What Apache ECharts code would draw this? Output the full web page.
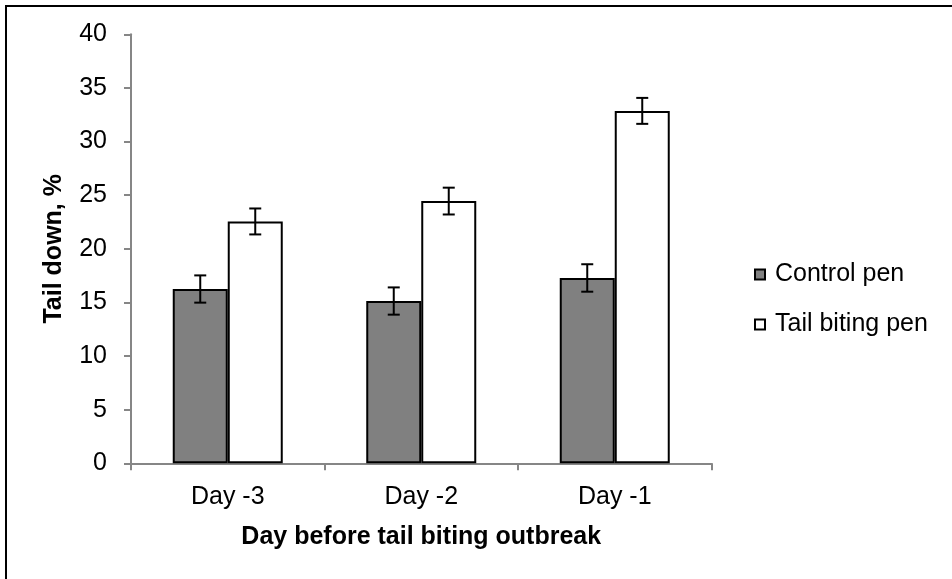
<!DOCTYPE html>
<html>
<head>
<meta charset="utf-8">
<style>html,body{margin:0;padding:0;background:#fff;}#c{width:952px;height:579px;}</style>
<script src="https://cdn.jsdelivr.net/npm/echarts@6/dist/echarts.min.js"></script>
</head>
<body>
<div id="c"></div>
<script>
const categories = ['Day -3', 'Day -2', 'Day -1'];
const controlPen = [16.25, 15.13, 17.28];
const controlErr = [1.27, 1.27, 1.28];
const tailPen = [22.55, 24.45, 32.86];
const tailErr = [1.21, 1.25, 1.21];
const yTicks = [0, 5, 10, 15, 20, 25, 30, 35, 40];

const chart = echarts.init(document.getElementById('c'), null, {renderer: 'canvas'});
const FONT = 'Liberation Sans, Arial, sans-serif';
const FS = 25;
const BAR_W = 55;

function errSeries(name, vals, errs, offset) {
  return {
    type: 'custom',
    name: name + ' err',
    z: 10,
    silent: true,
    data: vals.map((v, i) => [i, v, errs[i]]),
    renderItem: function (params, api) {
      const i = api.value(0), v = api.value(1), e = api.value(2);
      const hi = api.coord([i, v + e]);
      const lo = api.coord([i, v - e]);
      const x = hi[0] + offset;
      const cap = 6;
      const st = {stroke: '#000', lineWidth: 2};
      return {
        type: 'group',
        children: [
          {type: 'line', shape: {x1: x, y1: hi[1], x2: x, y2: lo[1]}, style: st},
          {type: 'line', shape: {x1: x - cap, y1: hi[1], x2: x + cap, y2: hi[1]}, style: st},
          {type: 'line', shape: {x1: x - cap, y1: lo[1], x2: x + cap, y2: lo[1]}, style: st}
        ]
      };
    }
  };
}

chart.setOption({
  animation: false,
  backgroundColor: '#fff',
  grid: {left: 131, top: 34.3, right: 240.5, bottom: 115.7, containLabel: false},
  graphic: [
    {type: 'line', shape: {x1: 6, y1: 6, x2: 6, y2: 600}, style: {stroke: '#000', lineWidth: 2}},
    {type: 'line', shape: {x1: 5, y1: 6, x2: 960, y2: 6}, style: {stroke: '#000', lineWidth: 2}}
  ],
  legend: {
    orient: 'vertical',
    left: 749,
    top: 257,
    itemWidth: 10,
    itemHeight: 10,
    itemGap: 25,
    icon: 'rect',
    data: ['Control pen', 'Tail biting pen'],
    textStyle: {fontFamily: FONT, fontSize: FS, color: '#000', padding: [0, 0, 0, 5]}
  },
  xAxis: {
    type: 'category',
    data: categories,
    name: 'Day before tail biting outbreak',
    nameLocation: 'middle',
    nameGap: 61,
    nameTextStyle: {fontFamily: FONT, fontSize: FS, fontWeight: 'bold', color: '#000'},
    axisLine: {lineStyle: {color: '#868686', width: 2}},
    axisTick: {show: true, length: 7, lineStyle: {color: '#868686', width: 2}, alignWithLabel: false},
    axisLabel: {fontFamily: FONT, fontSize: FS, color: '#000', margin: 21}
  },
  yAxis: {
    type: 'value',
    min: 0, max: 40, interval: 5,
    name: 'Tail down, %',
    nameLocation: 'middle',
    nameGap: 64,
    nameTextStyle: {fontFamily: FONT, fontSize: FS, fontWeight: 'bold', color: '#000'},
    axisLine: {show: true, lineStyle: {color: '#868686', width: 2}},
    axisTick: {show: true, length: 7, lineStyle: {color: '#868686', width: 2}},
    splitLine: {show: false},
    axisLabel: {fontFamily: FONT, fontSize: FS, color: '#000', margin: 24,
      formatter: v => yTicks.includes(v) ? String(v) : ''}
  },
  series: [
    {
      name: 'Control pen', type: 'bar', data: controlPen, barWidth: BAR_W, barGap: '0%',
      itemStyle: {color: '#808080', borderColor: '#000', borderWidth: 2}
    },
    {
      name: 'Tail biting pen', type: 'bar', data: tailPen, barWidth: BAR_W, barGap: '0%',
      itemStyle: {color: '#fff', borderColor: '#000', borderWidth: 2}
    },
    errSeries('Control pen', controlPen, controlErr, -BAR_W / 2),
    errSeries('Tail biting pen', tailPen, tailErr, BAR_W / 2)
  ]
});
</script>
</body>
</html>
